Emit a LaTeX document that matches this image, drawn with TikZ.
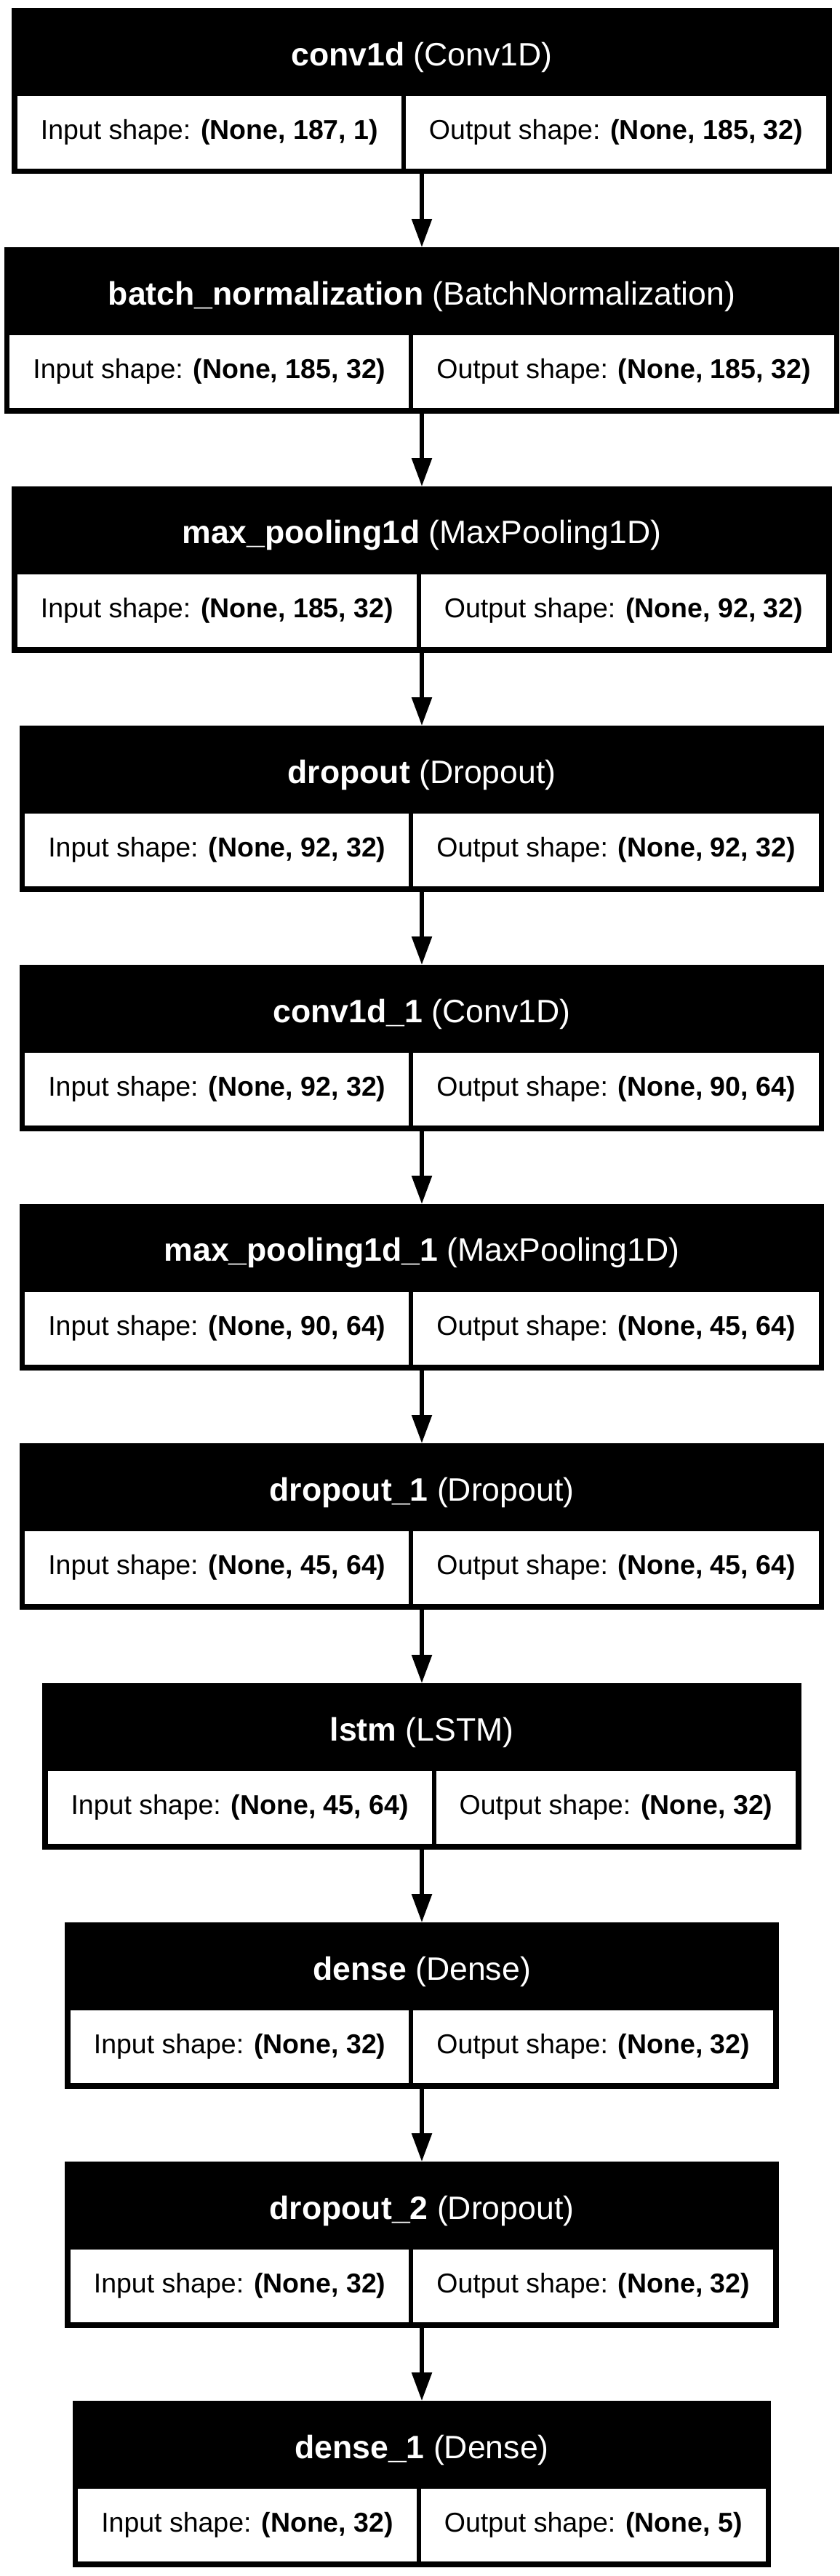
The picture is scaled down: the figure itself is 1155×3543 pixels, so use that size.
\documentclass[tikz,border=0pt]{standalone}
\usepackage{fontspec}
\setmainfont{Liberation Sans}
\usetikzlibrary{arrows.meta,fit}

\tikzset{
  cell/.style={fill=white, inner xsep=8pt, inner ysep=0pt, minimum height=25pt,
    outer sep=0pt, font=\fontsize{9.375pt}{11pt}\selectfont},
  cellrow/.style={fill=black, inner sep=1.875pt, column sep=1.5pt, anchor=north,
    outer sep=0pt, ampersand replacement=\&},
  head/.style={fill=black, inner sep=0pt, outer sep=0pt},
  headtext/.style={text=white, inner sep=0pt, font=\fontsize{11.15pt}{13pt}\selectfont},
  flow/.style={-{Triangle[length=9.75pt,width=6.75pt]}, line width=1.4pt}
}

% one layer: id, top, name, class, input, output
\newcommand{\kerasLayer}[6]{%
  \matrix (#1) [cellrow] at (580,#2+113.5) {
    \node[cell] (#1in) {Input shape: \textbf{#5}}; \&
    \node[cell] (#1out) {Output shape: \textbf{#6}}; \\
  };
  \node[head, fit={(#1.north west) ([yshift=28.375pt]#1.north east)}] (#1head) {};
  \node[headtext] (#1title) at ([yshift=11.5pt]#1.north) {\textbf{#3} (#4)};
}

\begin{document}
\begin{tikzpicture}[x=0.25pt,y=-0.25pt]

% Fond
\fill[white] (0,0) rectangle (1155,3543);
\useasboundingbox (0,0) rectangle (1155,3543);

% Couches
\kerasLayer{conv}{11}{conv1d}{Conv1D}{(None, 187, 1)}{(None, 185, 32)}
\kerasLayer{bn}{340}{batch\_normalization}{BatchNormalization}{(None, 185, 32)}{(None, 185, 32)}
\kerasLayer{pool}{669}{max\_pooling1d}{MaxPooling1D}{(None, 185, 32)}{(None, 92, 32)}
\kerasLayer{drop}{998}{dropout}{Dropout}{(None, 92, 32)}{(None, 92, 32)}
\kerasLayer{convB}{1327}{conv1d\_1}{Conv1D}{(None, 92, 32)}{(None, 90, 64)}
\kerasLayer{poolB}{1656}{max\_pooling1d\_1}{MaxPooling1D}{(None, 90, 64)}{(None, 45, 64)}
\kerasLayer{dropB}{1985}{dropout\_1}{Dropout}{(None, 45, 64)}{(None, 45, 64)}
\kerasLayer{lstm}{2315}{lstm}{LSTM}{(None, 45, 64)}{(None, 32)}
\kerasLayer{dense}{2644}{dense}{Dense}{(None, 32)}{(None, 32)}
\kerasLayer{dropC}{2973}{dropout\_2}{Dropout}{(None, 32)}{(None, 32)}
\kerasLayer{denseB}{3302}{dense\_1}{Dense}{(None, 32)}{(None, 5)}

% Flux
\draw[flow] (conv.south) -- (bnhead.north);
\draw[flow] (bn.south) -- (poolhead.north);
\draw[flow] (pool.south) -- (drophead.north);
\draw[flow] (drop.south) -- (convBhead.north);
\draw[flow] (convB.south) -- (poolBhead.north);
\draw[flow] (poolB.south) -- (dropBhead.north);
\draw[flow] (dropB.south) -- (lstmhead.north);
\draw[flow] (lstm.south) -- (densehead.north);
\draw[flow] (dense.south) -- (dropChead.north);
\draw[flow] (dropC.south) -- (denseBhead.north);

\end{tikzpicture}
\end{document}
